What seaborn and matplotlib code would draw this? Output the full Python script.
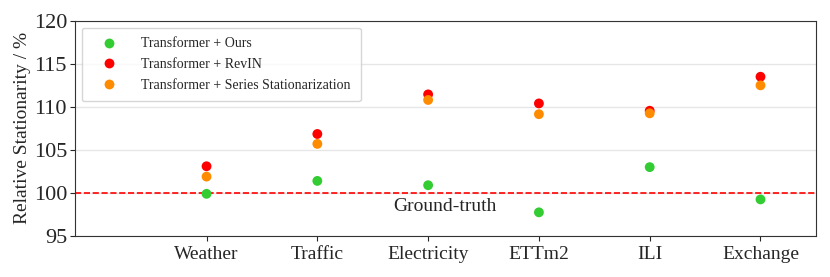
"""Relative stationarity of normalization methods across datasets"""

import pandas as pd
import matplotlib.pyplot as plt
import seaborn as sns

datasets = ["Weather", "Traffic", "Electricity", "ETTm2", "ILI", "Exchange"]
ours = [99.9, 101.4, 100.9, 97.75, 103.0, 99.25]
revin = [103.1, 106.85, 111.45, 110.4, 109.55, 113.5]
series_stat = [101.9, 105.7, 110.8, 109.15, 109.25, 112.5]
methods = ["Transformer + Ours", "Transformer + RevIN", "Transformer + Series Stationarization"]
colors = ["#33cc33", "#ff0000", "#ff8c00"]

rows = []
for method, values in zip(methods, [ours, revin, series_stat]):
    for name, v in zip(datasets, values):
        rows.append({"Dataset": name, "Method": method, "Value": v})
df = pd.DataFrame(rows)
df["x"] = df["Dataset"].map({d: i for i, d in enumerate(datasets)})

sns.set_style("ticks")
plt.rcParams["font.family"] = ["Liberation Serif", "DejaVu Serif"]

fig, ax = plt.subplots(figsize=(8.3, 2.77), dpi=100)
ax.set_axisbelow(True)
ax.grid(axis="y", color="#e6e6e6", linewidth=1)
sns.scatterplot(data=df, x="x", y="Value", hue="Method", palette=colors,
                s=50, edgecolor="none", ax=ax, zorder=3)
ax.axhline(100, color="#ff0000", linestyle="--", linewidth=1.2, zorder=2)
ax.text(2.15, 98.4, "Ground-truth", fontsize=14, ha="center", va="center")

ax.set_xticks(range(len(datasets)))
ax.set_xticklabels(datasets, fontsize=14)
ax.set_xlim(-1.19, 5.5)
ax.set_ylim(95, 120)
ax.set_yticks([95, 100, 105, 110, 115, 120])
ax.tick_params(axis="y", labelsize=16, pad=2)
ax.set_xlabel("")
ax.set_ylabel("Relative Stationarity / %", fontsize=14, labelpad=2)
for sp in ax.spines.values():
    sp.set_color("#333333")

leg = ax.legend(loc="upper left", fontsize=10, frameon=True, labelspacing=0.55,
                handletextpad=1.0, borderpad=0.7, handlelength=2.6, markerscale=1.0)
leg.get_frame().set_edgecolor("#cccccc")

plt.subplots_adjust(left=0.09, right=0.983, top=0.925, bottom=0.148)
plt.savefig("out.png", dpi=100)
